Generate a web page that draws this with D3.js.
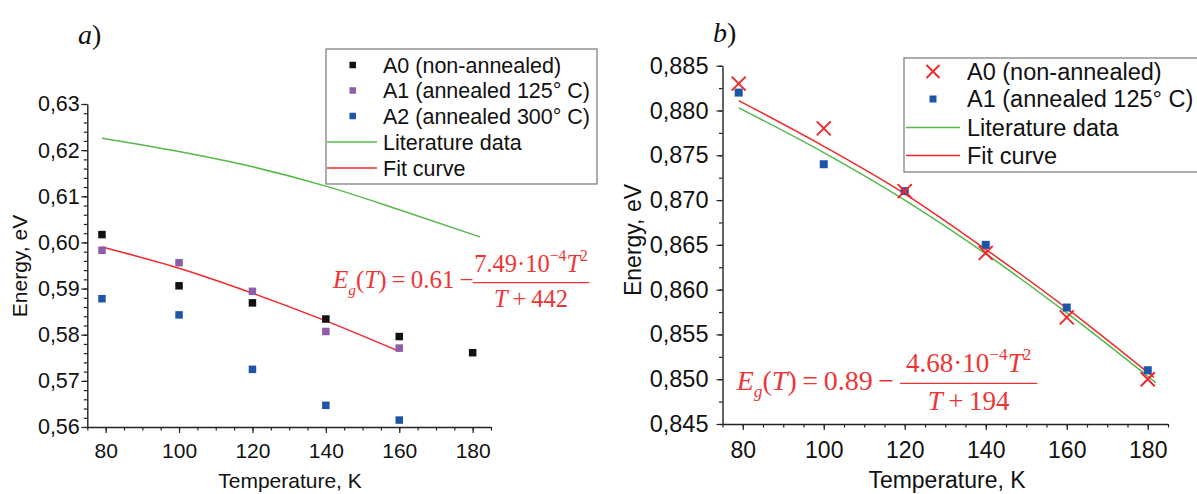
<!DOCTYPE html>
<html><head><meta charset="utf-8">
<script src="https://cdn.jsdelivr.net/npm/d3@7"></script>
<style>
html,body{margin:0;padding:0;background:#fff;}
svg{display:block;}
</style></head>
<body>
<svg id="chart" width="1197" height="494"></svg>
<script>
// ---------- DATA (panel a) ----------
const tempA0a = [79, 100, 120, 140, 160, 180];
const a0_a    = [0.6017, 0.5906, 0.5869, 0.5834, 0.5796, 0.5761];
const tempA1a = [79, 100, 120, 140, 160];
const a1_a    = [0.5983, 0.5956, 0.5894, 0.5807, 0.5771];
const tempA2a = [79, 100, 120, 140, 160];
const a2_a    = [0.5878, 0.5843, 0.5725, 0.5647, 0.5615];
const litTa   = [79, 100, 120, 140, 160, 182];
const lit_a   = [0.6226, 0.6197, 0.6164, 0.6122, 0.6071, 0.6012];
const fitTa   = [79, 100, 120, 140, 160];
const fit_a   = [0.5990, 0.5944, 0.5890, 0.5830, 0.5764];
const yTicksA = [0.56, 0.57, 0.58, 0.59, 0.60, 0.61, 0.62, 0.63];
const yLabelsA = ["0,56", "0,57", "0,58", "0,59", "0,60", "0,61", "0,62", "0,63"];
const legendA = ["A0 (non-annealed)", "A1 (annealed 125° C)", "A2 (annealed 300° C)", "Literature data", "Fit curve"];

// ---------- DATA (panel b) ----------
const tempB   = [79, 100, 120, 140, 160, 180];
const a0_b    = [0.8830, 0.8780, 0.8710, 0.8641, 0.8569, 0.8500];
const a1_b    = [0.8820, 0.8740, 0.8710, 0.8650, 0.8580, 0.8510];
const fitTb   = [79, 100, 120, 140, 160, 181.5];
const fit_b   = [0.8811, 0.8760, 0.8707, 0.8645, 0.8579, 0.8502];
const litTb   = [79, 100, 120, 140, 160, 182];
const lit_b   = [0.8803, 0.8753, 0.8700, 0.8640, 0.8574, 0.8496];
const yTicksB = [0.845, 0.850, 0.855, 0.860, 0.865, 0.870, 0.875, 0.880, 0.885];
const yLabelsB = ["0,845", "0,850", "0,855", "0,860", "0,865", "0,870", "0,875", "0,880", "0,885"];
const legendB = ["A0 (non-annealed)", "A1 (annealed 125° C)", "Literature data", "Fit curve"];

const xTicks = [80, 100, 120, 140, 160, 180];
const xLabels = ["80", "100", "120", "140", "160", "180"];

// ---------- STYLE ----------
const C = {black:"#111111", purple:"#8e5ca8", blue:"#1f55a8", green:"#55b847", red:"#f0282c", formula:"#ee3535", axis:"#222"};
const SANS = "'Liberation Sans', Arial, sans-serif";
const SERIF = "'Liberation Serif', 'Times New Roman', serif";

const svg = d3.select("#chart");

function drawAxes(g, x, y, cfg) {
  const yMinor = d3.range(cfg.yDom[0], cfg.yDom[1] + 1e-9, cfg.yMinorStep);
  const xMinor = d3.range(75, 185 + 1e-9, 5);
  g.append("g").attr("transform", `translate(${x.range()[0]},0)`)
    .call(d3.axisLeft(y).tickValues(yMinor).tickSize(3.5).tickFormat("").tickSizeOuter(0))
    .call(s => s.select(".domain").remove())
    .call(s => s.selectAll("line").attr("stroke", C.axis).attr("stroke-width", 1.2));
  g.append("g").attr("transform", `translate(0,${y.range()[0]})`)
    .call(d3.axisBottom(x).tickValues(xMinor).tickSize(3.5).tickFormat("").tickSizeOuter(0))
    .call(s => s.select(".domain").remove())
    .call(s => s.selectAll("line").attr("stroke", C.axis).attr("stroke-width", 1.2));
  const ya = g.append("g").attr("transform", `translate(${x.range()[0]},0)`)
    .call(d3.axisLeft(y).tickValues(cfg.yTicks).tickSize(6).tickPadding(cfg.yPad).tickSizeOuter(0)
      .tickFormat((d, i) => cfg.yLabels[i]));
  const xa = g.append("g").attr("transform", `translate(0,${y.range()[0]})`)
    .call(d3.axisBottom(x).tickValues(xTicks).tickSize(6).tickPadding(cfg.xPad).tickSizeOuter(0)
      .tickFormat((d, i) => xLabels[i]));
  [ya, xa].forEach(a => {
    a.select(".domain").attr("stroke", C.axis).attr("stroke-width", 1.4);
    a.selectAll("line").attr("stroke", C.axis).attr("stroke-width", 1.2);
    a.selectAll("text").attr("font-family", SANS).attr("fill", "#111");
  });
  ya.selectAll("text").attr("font-size", cfg.yFont);
  xa.selectAll("text").attr("font-size", cfg.xFont);
  g.append("text").attr("font-family", SANS).attr("font-size", cfg.titleFont).attr("fill", "#111")
    .attr("text-anchor", "middle")
    .attr("transform", `translate(${cfg.yTitleX},${cfg.yTitleY}) rotate(-90)`)
    .text("Energy, eV");
  g.append("text").attr("font-family", SANS).attr("font-size", cfg.titleFont).attr("fill", "#111")
    .attr("text-anchor", "middle").attr("x", cfg.xTitleX).attr("y", cfg.xTitleY)
    .text("Temperature, K");
}

function squares(g, x, y, ts, vs, color, size) {
  g.selectAll(null).data(ts.map((t, i) => [t, vs[i]])).enter().append("rect")
    .attr("x", d => x(d[0]) - size / 2).attr("y", d => y(d[1]) - size / 2)
    .attr("width", size).attr("height", size).attr("fill", color);
}
function crosses(g, x, y, ts, vs, color, size) {
  const h = size / 2;
  g.selectAll(null).data(ts.map((t, i) => [t, vs[i]])).enter().append("path")
    .attr("d", d => `M${x(d[0]) - h},${y(d[1]) - h}L${x(d[0]) + h},${y(d[1]) + h}M${x(d[0]) - h},${y(d[1]) + h}L${x(d[0]) + h},${y(d[1]) - h}`)
    .attr("stroke", color).attr("stroke-width", 2).attr("fill", "none");
}
function curve(g, x, y, ts, vs, color) {
  const line = d3.line().x(d => x(d[0])).y(d => y(d[1])).curve(d3.curveMonotoneX);
  g.append("path").attr("d", line(ts.map((t, i) => [t, vs[i]])))
    .attr("fill", "none").attr("stroke", color).attr("stroke-width", 1.5);
}

function legend(g, items, cfg) {
  g.append("rect").attr("x", cfg.x0).attr("y", cfg.y0).attr("width", cfg.w).attr("height", cfg.h)
    .attr("fill", "#fff").attr("stroke", "#777").attr("stroke-width", 1.2);
  items.forEach((it, i) => {
    const cy = cfg.rowY[i];
    if (it.type === "sq") {
      g.append("rect").attr("x", cfg.symX - cfg.sq / 2).attr("y", cy - cfg.sq / 2)
        .attr("width", cfg.sq).attr("height", cfg.sq).attr("fill", it.color);
    } else if (it.type === "x") {
      const h = 6.5;
      g.append("path").attr("d", `M${cfg.symX - h},${cy - h}L${cfg.symX + h},${cy + h}M${cfg.symX - h},${cy + h}L${cfg.symX + h},${cy - h}`)
        .attr("stroke", it.color).attr("stroke-width", 2);
    } else {
      g.append("line").attr("x1", cfg.lineX[0]).attr("x2", cfg.lineX[1]).attr("y1", cy).attr("y2", cy)
        .attr("stroke", it.color).attr("stroke-width", 1.5);
    }
    g.append("text").attr("x", cfg.textX).attr("y", cy).attr("dy", "0.36em")
      .attr("font-family", SANS).attr("font-size", cfg.font).attr("fill", "#111").text(it.label);
  });
}

function formula(g, cfg) {
  const f = cfg.font, s = cfg.fracFont;
  const t = g.append("text").attr("x", cfg.x).attr("y", cfg.y).attr("font-family", SERIF)
    .attr("font-size", f).attr("fill", C.formula);
  t.append("tspan").attr("font-style", "italic").text("E");
  t.append("tspan").attr("font-style", "italic").attr("font-size", f * 0.62).attr("dy", f * 0.26).text("g");
  t.append("tspan").attr("dy", -f * 0.26).text("(");
  t.append("tspan").attr("font-style", "italic").text("T");
  t.append("tspan").text(")\u2009=\u2009" + cfg.c + "\u2009\u2212");
  g.append("line").attr("x1", cfg.bar[0]).attr("x2", cfg.bar[1]).attr("y1", cfg.barY).attr("y2", cfg.barY)
    .attr("stroke", C.formula).attr("stroke-width", 1.3);
  const cx = (cfg.bar[0] + cfg.bar[1]) / 2;
  const n = g.append("text").attr("x", cx).attr("y", cfg.numY).attr("text-anchor", "middle")
    .attr("font-family", SERIF).attr("font-size", s).attr("fill", C.formula);
  n.append("tspan").text(cfg.coef + "\u00b710");
  n.append("tspan").attr("font-size", s * 0.64).attr("dy", -s * 0.42).text("\u22124");
  n.append("tspan").attr("font-style", "italic").attr("dy", s * 0.42).text("T");
  n.append("tspan").attr("font-size", s * 0.64).attr("dy", -s * 0.42).text("2");
  const d = g.append("text").attr("x", cx).attr("y", cfg.denY).attr("text-anchor", "middle")
    .attr("font-family", SERIF).attr("font-size", s).attr("fill", C.formula);
  d.append("tspan").attr("font-style", "italic").text("T");
  d.append("tspan").text("\u2009+\u2009" + cfg.den);
}

function panelTitle(letter, x, y, size) {
  const t = svg.append("text").attr("x", x).attr("y", y).attr("font-family", SERIF)
    .attr("font-size", size).attr("fill", "#111");
  t.append("tspan").attr("font-style", "italic").text(letter);
  t.append("tspan").text(")");
}

// ---------- PANEL a ----------
const xA = d3.scaleLinear().domain([75, 185]).range([87.3, 491]);
const yA = d3.scaleLinear().domain([0.56, 0.63]).range([427, 104]);
const gA = svg.append("g");
drawAxes(gA, xA, yA, {yDom:[0.56, 0.63], yMinorStep:0.002, yTicks:yTicksA, yLabels:yLabelsA,
  yPad:1.5, xPad:10, yFont:21.5, xFont:21, titleFont:21, yTitleX:27, yTitleY:266, xTitleX:290, xTitleY:488});
curve(gA, xA, yA, litTa, lit_a, C.green);
curve(gA, xA, yA, fitTa, fit_a, C.red);
squares(gA, xA, yA, tempA0a, a0_a, C.black, 7.5);
squares(gA, xA, yA, tempA1a, a1_a, C.purple, 7.5);
squares(gA, xA, yA, tempA2a, a2_a, C.blue, 7.5);
legend(gA, [
  {type:"sq", color:C.black, label:legendA[0]},
  {type:"sq", color:C.purple, label:legendA[1]},
  {type:"sq", color:C.blue, label:legendA[2]},
  {type:"line", color:C.green, label:legendA[3]},
  {type:"line", color:C.red, label:legendA[4]}
], {x0:326, y0:49, w:271, h:135, rowY:[65, 90.5, 116, 142, 168], symX:352.7, sq:6.5, lineX:[327, 377], textX:383, font:21.5});
formula(gA, {x:333, y:288, font:25, fracFont:24.5, c:"0.61", coef:"7.49", den:"442",
  bar:[472.7, 589.3], barY:282.7, numY:271.7, denY:306.7});
panelTitle("a", 78, 44, 28);

// ---------- PANEL b ----------
const xB = d3.scaleLinear().domain([75, 185]).range([722.5, 1168]);
const yB = d3.scaleLinear().domain([0.845, 0.885]).range([424, 65.7]);
const gB = svg.append("g");
drawAxes(gB, xB, yB, {yDom:[0.845, 0.885], yMinorStep:0.0025, yTicks:yTicksB, yLabels:yLabelsB,
  yPad:8, xPad:12, yFont:23.5, xFont:23, titleFont:23, yTitleX:641, yTitleY:240, xTitleX:947, xTitleY:488});
curve(gB, xB, yB, litTb, lit_b, C.green);
curve(gB, xB, yB, fitTb, fit_b, C.red);
squares(gB, xB, yB, tempB, a1_b, C.blue, 8);
crosses(gB, xB, yB, tempB, a0_b, C.red, 14);
legend(gB, [
  {type:"x", color:C.red, label:legendB[0]},
  {type:"sq", color:C.blue, label:legendB[1]},
  {type:"line", color:C.green, label:legendB[2]},
  {type:"line", color:C.red, label:legendB[3]}
], {x0:904, y0:58, w:300, h:114, rowY:[71.5, 99, 127.5, 155.5], symX:933, sq:7, lineX:[906, 960], textX:967, font:23.5});
formula(gB, {x:736.7, y:390, font:28, fracFont:27, c:"0.89", coef:"4.68", den:"194",
  bar:[900, 1037.3], barY:383.3, numY:371.7, denY:410});
panelTitle("b", 713, 42, 28);
</script>
</body></html>
